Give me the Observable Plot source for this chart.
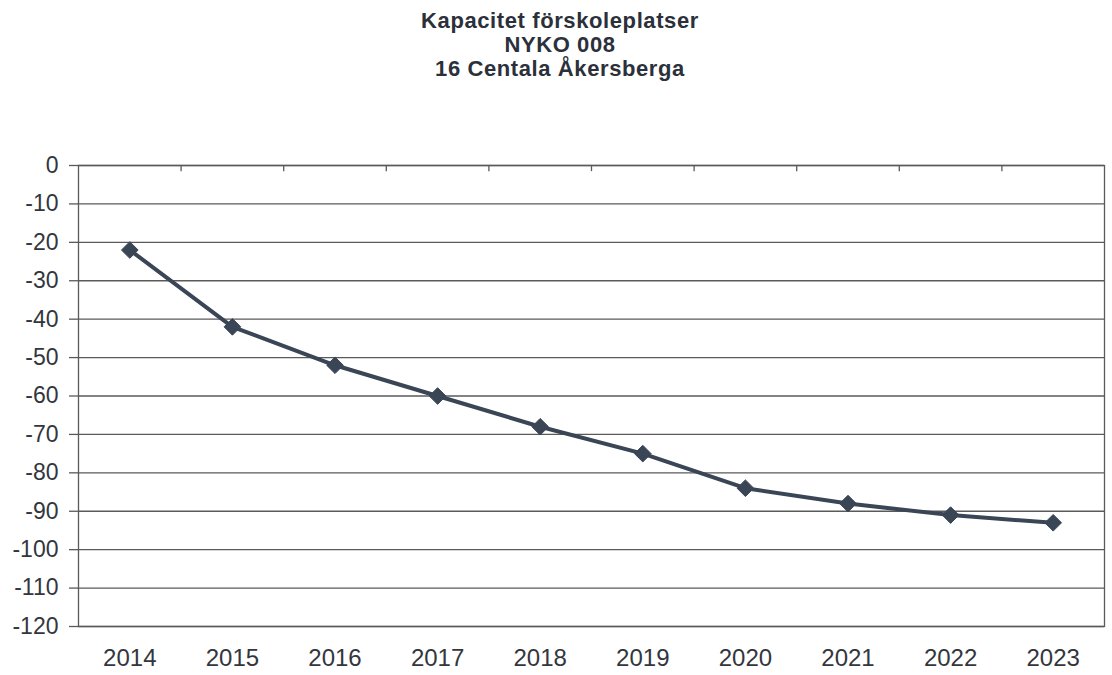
<!DOCTYPE html>
<html>
<head>
<meta charset="utf-8">
<script src="https://cdn.jsdelivr.net/npm/d3@7"></script>
<script src="https://cdn.jsdelivr.net/npm/@observablehq/plot@0.6"></script>
<style>
  html, body { margin: 0; padding: 0; background: #fff; }
  #title { height: 90px; box-sizing: border-box; padding-top: 9px; padding-left: 8px;
    font-family: "Liberation Sans", Arial, sans-serif; font-weight: bold; font-size: 22px;
    letter-spacing: 0.6px; line-height: 24px; text-align: center; color: #2b303a; }
  #chart svg { display: block; }
</style>
</head>
<body>
<div id="title">Kapacitet förskoleplatser<br>NYKO 008<br>16 Centala Åkersberga</div>
<div id="chart"></div>
<script>
const years = [2014, 2015, 2016, 2017, 2018, 2019, 2020, 2021, 2022, 2023];
const values = [-22, -42, -52, -60, -68, -75, -84, -88, -91, -93];
const yTicks = [0, -10, -20, -30, -40, -50, -60, -70, -80, -90, -100, -110, -120];
const boundaries = years.slice(0, -1).map(y => y + 0.5);

const data = years.map((y, i) => ({year: y, value: values[i]}));
const lineColor = "#3a4656";
const gridColor = "#5a5a5a";
const textColor = "#33363d";
const diamondSymbol = d3.symbolDiamond2 || "diamond";

const chart = Plot.plot({
  width: 1112,
  height: 585,
  marginTop: 75,
  marginLeft: 78,
  marginRight: 8,
  marginBottom: 49,
  style: {fontFamily: "Liberation Sans, Arial, sans-serif", color: textColor, background: "#fff"},
  x: {domain: [2013.5, 2023.5], axis: null},
  y: {domain: [-120, 0], axis: null},
  marks: [
    Plot.ruleY(yTicks, {stroke: gridColor, strokeWidth: 1.3}),
    Plot.frame({stroke: gridColor, strokeWidth: 1.3}),
    Plot.ruleX(boundaries, {y1: 0, y2: -1.6, stroke: gridColor, strokeWidth: 1.3}),
    Plot.axisY({ticks: yTicks, tickSize: 9, tickPadding: 11, fontSize: 23, label: null,
      tickFormat: d => String(d), stroke: gridColor, strokeWidth: 1.3, fill: textColor}),
    Plot.axisX({ticks: years, tickSize: 0, tickPadding: 22, fontSize: 24, label: null,
      tickFormat: d => String(d), fill: textColor}),
    Plot.line(data, {x: "year", y: "value", stroke: lineColor, strokeWidth: 4}),
    Plot.dot(data, {x: "year", y: "value", symbol: diamondSymbol, r: 7.5, fill: lineColor, stroke: lineColor, strokeWidth: 1})
  ]
});
document.getElementById("chart").appendChild(chart);
</script>
</body>
</html>
